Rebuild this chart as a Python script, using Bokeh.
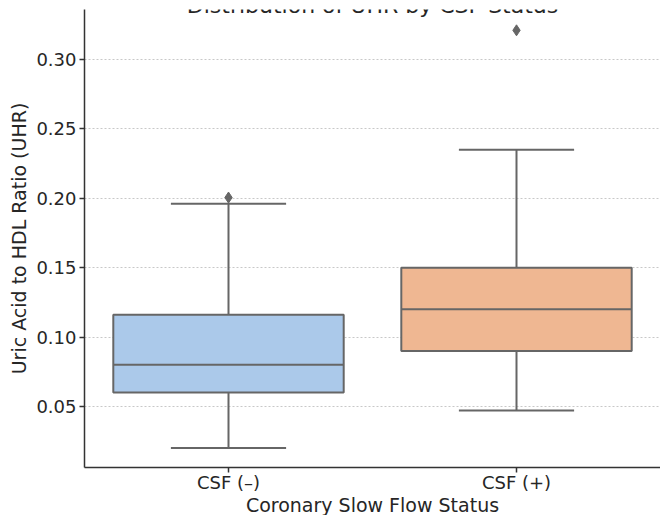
from bokeh.plotting import figure
from bokeh.models import (ColumnDataSource, FactorRange, Range1d, FixedTicker,
                          NumeralTickFormatter, Label)
from bokeh.transform import dodge
from bokeh.embed import file_html
from bokeh.resources import INLINE

# ---- data ----
categories = ["CSF (–)", "CSF (+)"]
q1 = [0.060, 0.090]
median = [0.080, 0.120]
q3 = [0.116, 0.150]
lower_whisker = [0.020, 0.047]
upper_whisker = [0.196, 0.235]
box_colors = ["#abc9ea", "#efb792"]
outlier_cats = ["CSF (–)", "CSF (+)"]
outlier_vals = [0.2005, 0.321]
y_ticks = [0.05, 0.10, 0.15, 0.20, 0.25, 0.30]

title_text = "Distribution of UHR by CSF Status"
x_label = "Coronary Slow Flow Status"
y_label = "Uric Acid to HDL Ratio (UHR)"

FONT = "DejaVu Sans"
LINE = "#666666"
AX = "#333333"

src = ColumnDataSource(dict(cat=categories, q1=q1, med=median, q3=q3,
                            lo=lower_whisker, hi=upper_whisker, color=box_colors))
osrc = ColumnDataSource(dict(cat=outlier_cats, val=outlier_vals))

p = figure(frame_width=576, frame_height=458, output_backend="svg", toolbar_location=None,
           x_range=FactorRange(*categories, range_padding=0, start=0, end=1.99),
           y_range=Range1d(0.006, 0.336),
           min_border_left=84, min_border_right=0, min_border_top=9,
           min_border_bottom=10)
p.outline_line_color = None
p.background_fill_color = "white"
p.border_fill_color = "white"

# grid
p.xgrid.grid_line_color = None
p.ygrid.grid_line_color = "#c8c8c8"
p.ygrid.grid_line_dash = "2 2"
p.ygrid.grid_line_width = 1

# whiskers
p.segment(x0="cat", y0="q3", x1="cat", y1="hi", source=src, line_color=LINE, line_width=2)
p.segment(x0="cat", y0="q1", x1="cat", y1="lo", source=src, line_color=LINE, line_width=2)
# caps
p.segment(x0=dodge("cat", -0.2, range=p.x_range), y0="hi",
          x1=dodge("cat", 0.2, range=p.x_range), y1="hi",
          source=src, line_color=LINE, line_width=2)
p.segment(x0=dodge("cat", -0.2, range=p.x_range), y0="lo",
          x1=dodge("cat", 0.2, range=p.x_range), y1="lo",
          source=src, line_color=LINE, line_width=2)
# boxes
p.vbar(x="cat", width=0.8, bottom="q1", top="q3", source=src,
       fill_color="color", line_color=LINE, line_width=2)
# medians
p.segment(x0=dodge("cat", -0.4, range=p.x_range), y0="med",
          x1=dodge("cat", 0.4, range=p.x_range), y1="med",
          source=src, line_color=LINE, line_width=2)
# outliers
p.scatter(x="cat", y="val", source=osrc, marker="diamond", size=11,
          fill_color=LINE, line_color=LINE)

# axes
for ax in (p.xaxis, p.yaxis):
    ax.axis_line_color = AX
    ax.axis_line_width = 1.5
    ax.major_tick_line_color = AX
    ax.major_tick_line_width = 1.5
    ax.major_tick_out = 5
    ax.major_tick_in = 0
    ax.minor_tick_line_color = None
    ax.major_label_text_font = FONT
    ax.major_label_text_font_size = "18px"
    ax.major_label_text_color = "#262626"
    ax.axis_label_text_font = FONT
    ax.axis_label_text_font_size = "19px"
    ax.axis_label_text_font_style = "normal"
    ax.axis_label_text_color = "#262626"

p.yaxis.ticker = FixedTicker(ticks=y_ticks)
p.yaxis.formatter = NumeralTickFormatter(format="0.00")
p.yaxis.major_label_standoff = 3
p.yaxis.axis_label_standoff = 3
p.yaxis.axis_label = y_label

p.xaxis.major_label_standoff = -1
p.xaxis.axis_label_standoff = -2
p.xaxis.axis_label = x_label

# title (cut off at the top, as in the reference)
p.add_layout(Label(x=1.0, y=462, y_units="screen", text=title_text,
                   text_font=FONT, text_font_size="22px", text_color="#262626",
                   text_align="center", text_baseline="alphabetic"))

open("out.html", "w").write(file_html(p, INLINE))
